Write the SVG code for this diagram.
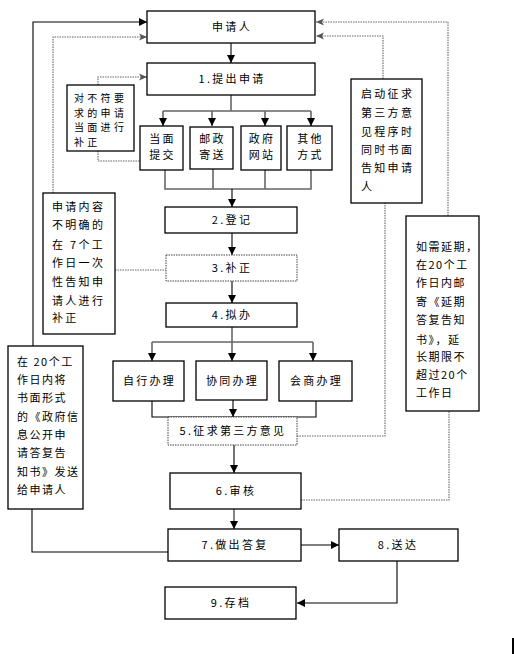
<svg xmlns="http://www.w3.org/2000/svg" width="514" height="668" viewBox="0 0 514 668">
<defs>
<style>
.box{fill:#fff;stroke:#000;stroke-width:1.3}
.dbox{fill:#fff;stroke:#444;stroke-width:1;stroke-dasharray:1.5 1}
.t{font-family:"Noto Sans CJK SC","Liberation Sans",sans-serif;font-size:11px;fill:#000;letter-spacing:2.3px}
.c{text-anchor:middle}
.ln{fill:none;stroke:#000;stroke-width:1.1}
.g{fill:none;stroke:#666;stroke-width:1.6}
.d{fill:none;stroke:#666;stroke-width:1.1;stroke-dasharray:1.5 1}
</style>
<marker id="a" viewBox="0 0 8 8" refX="8" refY="4" markerWidth="8" markerHeight="8" markerUnits="userSpaceOnUse" orient="auto">
<path d="M0,0 L8,4 L0,8 z" fill="#000"/>
</marker>
<marker id="ad" viewBox="0 0 8 8" refX="8" refY="4" markerWidth="8" markerHeight="8" markerUnits="userSpaceOnUse" orient="auto">
<path d="M0,0.5 L8,4 L0,7.5 L2,4 z" fill="#555"/>
</marker>
</defs>
<rect width="514" height="668" fill="#fff"/>

<g id="connectors">
<path class="ln" d="M33,346 V22 H147" marker-end="url(#a)"/>
<path class="ln" d="M32,509 V552 H168"/>
<path class="d" d="M53,193 V37 H147" marker-end="url(#ad)"/>
<path class="d" d="M98,85 V77 H147" marker-end="url(#ad)"/>
<path class="d" d="M98,151 V161 H140"/>
<path class="ln" d="M231,43 V63" marker-end="url(#a)"/>
<path class="g" d="M231,95 V111 M163,111 H311"/>
<path class="g" d="M163,111 V126" marker-end="url(#a)"/>
<path class="g" d="M212,111 V126" marker-end="url(#a)"/>
<path class="g" d="M265,111 V126" marker-end="url(#a)"/>
<path class="g" d="M311,111 V126" marker-end="url(#a)"/>
<path class="g" d="M165,170 V189 H311 V170 M213,169 V189 M265,170 V189"/>
<path class="ln" d="M232,189 V207" marker-end="url(#a)"/>
<path class="ln" d="M232,233 V255" marker-end="url(#a)"/>
<path class="ln" d="M232,281 V303" marker-end="url(#a)"/>
<path class="d" d="M115,270 H166"/>
<path class="g" d="M232,327 V342 M152,342 H313"/>
<path class="g" d="M152,342 V361" marker-end="url(#a)"/>
<path class="g" d="M232,342 V361" marker-end="url(#a)"/>
<path class="g" d="M313,342 V361" marker-end="url(#a)"/>
<path class="ln" d="M152,401 V417 H316 V401"/>
<path class="ln" d="M233,400 V417" marker-end="url(#a)"/>
<path class="ln" d="M234,445 V473" marker-end="url(#a)"/>
<path class="d" d="M297,436 H385 V203"/>
<path class="d" d="M383,79 V36 H316" marker-end="url(#ad)"/>
<path class="g" d="M234,509 V529" marker-end="url(#a)"/>
<path class="d" d="M301,500 H449 V411"/>
<path class="d" d="M448,216 V22 H316" marker-end="url(#ad)"/>
<path class="ln" d="M301,545 H339" marker-end="url(#a)"/>
<path class="ln" d="M397,561 V603 H297" marker-end="url(#a)"/>
</g>

<g id="n-applicant"><rect class="box" x="147" y="11" width="168" height="32"/><text class="t c" x="232" y="31">申请人</text></g>
<g id="n1"><rect class="box" x="147" y="63" width="168" height="32"/><text class="t c" x="232" y="83">1.提出申请</text></g>
<g id="n-note1"><rect class="box" x="67" y="85" width="67" height="66"/>
<text class="t" x="74" style="font-size:10px;letter-spacing:3.3px"><tspan x="74" y="102">对不符要</tspan><tspan x="74" y="116.5">求的申请</tspan><tspan x="74" y="131">当面进行</tspan><tspan x="74" y="145.5">补正</tspan></text></g>
<g id="n-s1"><rect class="box" x="140" y="126" width="43" height="44"/><text class="t c" x="162.5"><tspan x="162.5" y="143">当面</tspan><tspan x="162.5" y="159">提交</tspan></text></g>
<g id="n-s2"><rect class="box" x="190" y="127" width="43" height="42"/><text class="t c" x="212.5"><tspan x="212.5" y="143">邮政</tspan><tspan x="212.5" y="159">寄送</tspan></text></g>
<g id="n-s3"><rect class="box" x="241" y="126" width="40" height="44"/><text class="t c" x="262"><tspan x="262" y="143">政府</tspan><tspan x="262" y="159">网站</tspan></text></g>
<g id="n-s4"><rect class="box" x="287" y="126" width="45" height="44"/><text class="t c" x="310.5"><tspan x="310.5" y="143">其他</tspan><tspan x="310.5" y="159">方式</tspan></text></g>
<g id="n-note2"><rect class="box" x="351" y="79" width="71" height="124"/>
<text class="t" x="361"><tspan x="361" y="98">启动征求</tspan><tspan x="361" y="117">第三方意</tspan><tspan x="361" y="136">见程序时</tspan><tspan x="361" y="154">同时书面</tspan><tspan x="361" y="172">告知申请</tspan><tspan x="361" y="191">人</tspan></text></g>
<g id="n-note3"><rect class="box" x="43" y="193" width="72" height="141"/>
<text class="t" x="52"><tspan x="52" y="211">申请内容</tspan><tspan x="52" y="229">不明确的</tspan><tspan x="52" y="249">在 7个工</tspan><tspan x="52" y="267">作日一次</tspan><tspan x="52" y="286">性告知申</tspan><tspan x="52" y="305">请人进行</tspan><tspan x="52" y="322">补正</tspan></text></g>
<g id="n2"><rect class="box" x="165" y="207" width="132" height="26"/><text class="t c" x="232" y="224">2.登记</text></g>
<g id="n3"><rect class="dbox" x="166" y="255" width="131" height="26"/><text class="t c" x="232" y="272">3.补正</text></g>
<g id="n4"><rect class="box" x="166" y="303" width="131" height="24"/><text class="t c" x="232" y="319">4.拟办</text></g>
<g id="n-note4"><rect class="box" x="406" y="216" width="73" height="195"/>
<text class="t" x="416" style="letter-spacing:1.5px"><tspan x="416" y="251">如需延期，</tspan><tspan x="416" y="269">在20个工</tspan><tspan x="416" y="287">作日内邮</tspan><tspan x="416" y="306">寄《延期</tspan><tspan x="416" y="324">答复告知</tspan><tspan x="416" y="344">书》，延</tspan><tspan x="416" y="361">长期限不</tspan><tspan x="416" y="379">超过20个</tspan><tspan x="416" y="397">工作日</tspan></text></g>
<g id="n-note5"><rect class="box" x="8" y="346" width="75" height="163"/>
<text class="t" x="17" style="letter-spacing:1.5px"><tspan x="17" y="366">在 20个工</tspan><tspan x="17" y="384">作日内将</tspan><tspan x="17" y="402">书面形式</tspan><tspan x="17" y="421">的《政府信</tspan><tspan x="17" y="439">息公开申</tspan><tspan x="17" y="457">请答复告</tspan><tspan x="17" y="476">知书》发送</tspan><tspan x="17" y="494">给申请人</tspan></text></g>
<g id="n-p1"><rect class="box" x="113" y="361" width="71" height="40"/><text class="t c" x="149.5" y="385">自行办理</text></g>
<g id="n-p2"><rect class="box" x="196" y="361" width="71" height="39"/><text class="t c" x="232.5" y="385">协同办理</text></g>
<g id="n-p3"><rect class="box" x="279" y="361" width="73" height="40"/><text class="t c" x="316.5" y="385">会商办理</text></g>
<g id="n5"><rect class="dbox" x="168" y="417" width="129" height="28"/><text class="t c" x="233" y="435">5.征求第三方意见</text></g>
<g id="n6"><rect class="box" x="170" y="473" width="131" height="36"/><text class="t c" x="236" y="495">6.审核</text></g>
<g id="n7"><rect class="box" x="168" y="529" width="133" height="32"/><text class="t c" x="235" y="549">7.做出答复</text></g>
<g id="n8"><rect class="box" x="339" y="529" width="119" height="32"/><text class="t c" x="398" y="549">8.送达</text></g>
<g id="n9"><rect class="box" x="165" y="587" width="131" height="32"/><text class="t c" x="231" y="607">9.存档</text></g>
<rect x="512" y="638" width="2" height="16" fill="#000"/>
</svg>
